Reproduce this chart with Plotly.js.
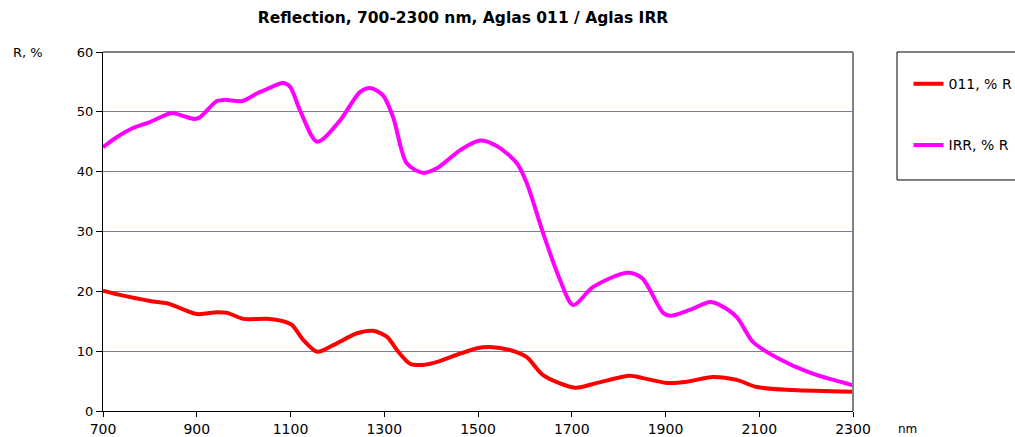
<!DOCTYPE html>
<html>
<head>
<meta charset="utf-8">
<script src="https://cdn.plot.ly/plotly-3.0.1.min.js"></script>
<style>html,body{margin:0;padding:0;background:#fff;}#chart{width:1015px;height:437px;}</style>
</head>
<body>
<div id="chart"></div>
<script>
// Wavelength (nm) and reflectance (%)
const wavelength011 = [700,736,800,837,858,900,943,965,999,1050,1084,1103,1127,1157,1191,1242,1276,1306,1327,1355,1383,1413,1455,1498,1526,1568,1604,1639,1707,1754,1824,1852,1903,1946,2001,2052,2095,2172,2300];
const reflect011 = [20.1,19.4,18.4,18.0,17.4,16.2,16.5,16.4,15.4,15.4,15.0,14.4,11.9,9.9,11.0,13.0,13.4,12.4,10.2,7.9,7.7,8.2,9.4,10.5,10.7,10.2,9.0,6.0,3.9,4.7,5.9,5.5,4.7,4.9,5.7,5.2,4.0,3.5,3.2];

const wavelengthIRR = [700,730,764,800,847,871,896,907,943,960,997,1029,1050,1084,1099,1120,1157,1206,1248,1270,1297,1319,1348,1383,1413,1462,1504,1540,1583,1604,1639,1675,1703,1745,1818,1850,1895,1910,1952,1995,2016,2052,2087,2138,2208,2300];
const reflectIRR = [44.1,45.8,47.3,48.3,49.8,49.3,48.8,49.1,51.8,52.0,51.8,53.1,53.8,54.8,54.2,50.3,45.0,48.6,53.3,54.0,52.8,49.1,41.4,39.8,40.6,43.6,45.2,44.3,41.4,38.1,29.7,21.9,17.7,20.7,23.1,22.2,16.4,15.9,16.9,18.2,17.7,15.7,11.5,8.9,6.4,4.3];

const seriesNames = ["011, % R", "IRR, % R"];
const titleText = "Reflection, 700-2300 nm, Aglas 011 / Aglas IRR";
const yUnit = "R, %";
const xUnit = "nm";

const font = "DejaVu Sans, Arial, sans-serif";

const traces = [
  {x: wavelength011, y: reflect011, name: seriesNames[0], type: "scatter", mode: "lines",
   line: {color: "#ff0000", width: 4, shape: "spline", smoothing: 0.8}, legendgroup: "a"},
  {x: wavelengthIRR, y: reflectIRR, name: seriesNames[1], type: "scatter", mode: "lines",
   line: {color: "#ff00ff", width: 4, shape: "spline", smoothing: 0.8}, legendgroup: "b"}
];

const layout = {
  width: 1015, height: 437,
  margin: {l: 103, r: 162, t: 52, b: 26, autoexpand: false},
  paper_bgcolor: "#fff", plot_bgcolor: "#fff",
  font: {family: font, color: "#000", size: 13},
  title: {text: "<b>" + titleText + "</b>", x: 0.48, xref: "paper", xanchor: "center", y: 0.96, yanchor: "middle", font: {size: 15.5, family: font}},
  xaxis: {range: [700, 2300], dtick: 200, tick0: 700, showgrid: false, zeroline: false, automargin: false,
    showline: true, linecolor: "#000", linewidth: 1, ticks: "outside", ticklen: 5, tickcolor: "#000",
    tickfont: {size: 14}, ticklabelstandoff: 0},
  yaxis: {range: [0, 60], dtick: 10, showgrid: true, gridcolor: "#7a7aaa", gridwidth: 1, zeroline: false, automargin: false,
    showline: true, linecolor: "#000", linewidth: 1, ticks: "outside", ticklen: 6, tickcolor: "#000",
    tickfont: {size: 13}},
  showlegend: true,
  legend: {x: 1.074, y: 0.955, xanchor: "left", yanchor: "top", bgcolor: "rgba(0,0,0,0)",
    borderwidth: 0, font: {size: 14}, traceorder: "grouped", tracegroupgap: 40, itemwidth: 30},
  shapes: [
    {type: "line", xref: "paper", yref: "paper", x0: 0, x1: 1, y0: 1, y1: 1, line: {color: "#808080", width: 2}},
    {type: "line", xref: "paper", yref: "paper", x0: 1, x1: 1, y0: 0, y1: 1, line: {color: "#808080", width: 2}},
    {type: "rect", xref: "paper", yref: "paper", x0: 1.0587, x1: 1.40, y0: 0.6435, y1: 1.0, line: {color: "#000", width: 1}, fillcolor: "rgba(0,0,0,0)"}
  ],
  annotations: [
    {text: yUnit, xref: "paper", yref: "paper", x: -0.078, y: 1.0, xanchor: "right", yanchor: "middle", showarrow: false, font: {size: 13}},
    {text: xUnit, xref: "paper", yref: "paper", x: 1.072, y: -0.05, xanchor: "center", yanchor: "middle", showarrow: false, font: {size: 12}}
  ]
};

Plotly.newPlot("chart", traces, layout, {displayModeBar: false, staticPlot: true});
</script>
</body>
</html>
